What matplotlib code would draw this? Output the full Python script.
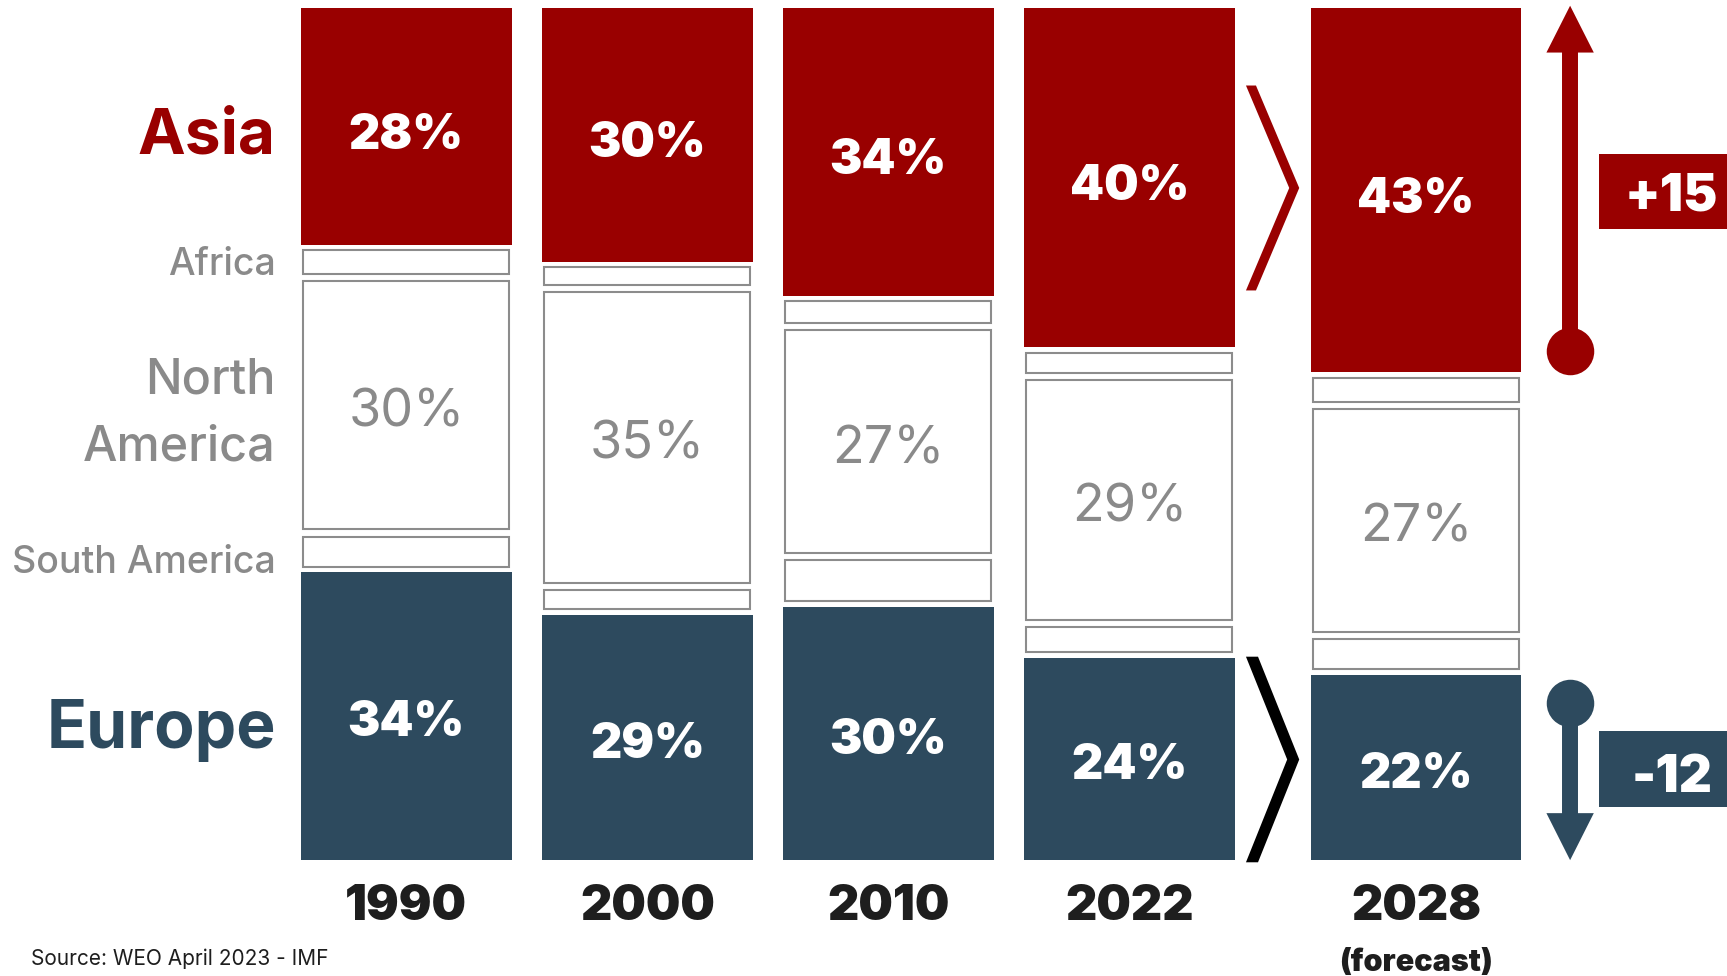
import matplotlib
matplotlib.use("Agg")
import matplotlib.pyplot as plt
import numpy as np
from matplotlib.patches import Polygon, Rectangle

# Share of world GDP by region (%)
years = ["1990", "2000", "2010", "2022", "2028"]
asia = [28, 30, 34, 40, 43]
africa = [3.6, 2.9, 3.4, 3.2, 3.6]
north_america = [30, 35, 27, 29, 27]
south_america = [4.4, 3.1, 5.6, 3.8, 4.4]
europe = [34, 29, 30, 24, 22]

RED = "#990000"
NAVY = "#2d4a5e"
BOX_EDGE = "#8c8c8c"
LABEL_GREY = "#8a8a8a"
INK = "#1e1e1e"

plt.rcParams["font.family"] = ["Inter", "DejaVu Sans"]

fig = plt.figure(figsize=(17.27, 9.76), dpi=100)
ax = fig.add_axes([0, 0, 1, 1])
ax.set_xlim(-1.686, 5.480)
ax.set_ylim(-13.62, 100.97)
ax.axis("off")

xpos = np.array([0, 1, 2, 3, 4.19])
bar_w = 0.873
box_w = 0.855

# stacked from the bottom up
stack = [europe, south_america, north_america, africa, asia]
kinds = ["solid", "box", "box", "box", "solid"]
fills = [NAVY, None, None, None, RED]

vals = np.array(stack, dtype=float)
bottoms = np.vstack([np.zeros(len(years)), np.cumsum(vals, axis=0)[:-1]])
tops = bottoms + vals

for k in range(len(stack)):
    lo, hi = bottoms[k], tops[k]
    if kinds[k] == "solid":
        pad = 0.24
        lo_d = lo + np.where(lo > 0.01, pad, 0.0)
        hi_d = hi - np.where(hi < 99.99, pad, 0.0)
        ax.bar(xpos, hi_d - lo_d, bottom=lo_d, width=bar_w,
               color=fills[k], linewidth=0)
    else:
        pad = 0.42
        ax.bar(xpos, (hi - pad) - (lo + pad), bottom=lo + pad, width=box_w,
               facecolor="white", edgecolor=BOX_EDGE, linewidth=1.5)

# value labels, centred in their segment
base_off = 2.5
for i, x in enumerate(xpos):
    mid_eu = (bottoms[0][i] + tops[0][i]) / 2
    mid_na = (bottoms[2][i] + tops[2][i]) / 2
    mid_as = (bottoms[4][i] + tops[4][i]) / 2
    ax.text(x, mid_as - base_off, f"{asia[i]}%", ha="center", va="baseline",
            color="white", fontsize=35, fontweight="black")
    ax.text(x, mid_na - base_off, f"{north_america[i]}%", ha="center", va="baseline",
            color=LABEL_GREY, fontsize=37.5, fontweight="normal")
    ax.text(x, mid_eu - base_off, f"{europe[i]}%", ha="center", va="baseline",
            color="white", fontsize=35, fontweight="black")

# region names on the left
lx = -0.541
ax.text(lx, 82.97, "Asia", ha="right", va="baseline", color=RED,
        fontsize=46, fontweight="bold")
ax.text(lx, 68.7, "Africa", ha="right", va="baseline", color=LABEL_GREY,
        fontsize=27, fontweight="medium")
ax.text(lx, 54.8, "North", ha="right", va="baseline", color=LABEL_GREY,
        fontsize=35, fontweight="medium")
ax.text(lx, 46.85, "America", ha="right", va="baseline", color=LABEL_GREY,
        fontsize=35, fontweight="medium")
ax.text(lx, 33.66, "South America", ha="right", va="baseline", color=LABEL_GREY,
        fontsize=27, fontweight="medium")
ax.text(lx, 13.1, "Europe", ha="right", va="baseline", color=NAVY,
        fontsize=47.5, fontweight="bold")

# year labels
for x, yr in zip(xpos, years):
    ax.text(x, -7.1, yr, ha="center", va="baseline", color=INK,
            fontsize=35, fontweight="black")
ax.text(xpos[-1], -13.03, "(forecast)", ha="center", va="baseline", color=INK,
        fontsize=22, fontweight="black")

ax.text(-1.559, -12.33, "Source: WEO April 2023 - IMF", ha="left", va="baseline",
        color=INK, fontsize=15)


# chevrons between the 2022 and 2028 bars
def chevron(yc, half_h, stroke, color):
    xl, xt = 3.484, 3.705
    pts = [(xl, yc + half_h), (xl + stroke, yc + half_h), (xt, yc),
           (xl + stroke, yc - half_h), (xl, yc - half_h), (xt - stroke, yc)]
    ax.add_patch(Polygon(pts, closed=True, facecolor=color, edgecolor="none"))


asia_mid_last = (bottoms[4][-1] + tops[4][-1]) / 2
eu_mid_last = (bottoms[0][-1] + tops[0][-1]) / 2
chevron(asia_mid_last + 0.4, 12.03, 0.0415, RED)
chevron(eu_mid_last + 0.8, 12.07, 0.05, "black")

# change arrows and badges
ax_x = 4.829
r = 23.7 / 8.517
head_hw = 0.0983
shaft_lw = 11.5
dot_ms = 34.2

asia_change = asia[-1] - asia[0]
europe_change = europe[-1] - europe[0]

# up arrow (Asia)
y_dot = 100 - asia[-1] + r
ax.plot([ax_x, ax_x], [y_dot, 94.9], color=RED, lw=shaft_lw, solid_capstyle="butt")
ax.plot([ax_x], [y_dot], "o", ms=dot_ms, color=RED, mew=0)
ax.add_patch(Polygon([(ax_x - head_hw, 94.8), (ax_x + head_hw, 94.8), (ax_x, 100.3)],
                     closed=True, facecolor=RED, edgecolor="none"))
ax.add_patch(Rectangle((4.948, asia_mid_last - 4.43), 1.0, 8.86,
                       facecolor=RED, edgecolor="none"))
ax.text(5.25, asia_mid_last - 2.27, f"{asia_change:+d}", ha="center", va="baseline",
        color="white", fontsize=37, fontweight="black")

# down arrow (Europe)
y_dot2 = europe[-1] - 0.8 - r
ax.plot([ax_x, ax_x], [y_dot2, 5.4], color=NAVY, lw=shaft_lw, solid_capstyle="butt")
ax.plot([ax_x], [y_dot2], "o", ms=dot_ms, color=NAVY, mew=0)
ax.add_patch(Polygon([(ax_x - head_hw, 5.5), (ax_x + head_hw, 5.5), (ax_x, -0.02)],
                     closed=True, facecolor=NAVY, edgecolor="none"))
ax.add_patch(Rectangle((4.948, 6.22), 1.0, 8.95, facecolor=NAVY, edgecolor="none"))
ax.text(5.25, 8.02, f"{europe_change:+d}", ha="center", va="baseline",
        color="white", fontsize=37, fontweight="black")

fig.savefig("out.png", dpi=100, facecolor="white")
